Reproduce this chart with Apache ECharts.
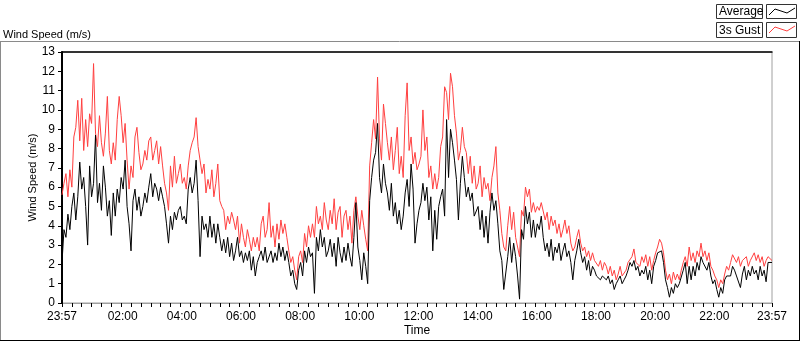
<!DOCTYPE html>
<html>
<head>
<meta charset="utf-8">
<script src="https://cdn.jsdelivr.net/npm/echarts@6/dist/echarts.min.js"></script>
<style>
  html, body { margin: 0; padding: 0; background: #fff; }
  #chart { width: 800px; height: 342px; }
</style>
</head>
<body>
<div id="chart"></div>
<script>
// minutes since 23:57, one reading every 4 min
var STEP = 4;

// 3s gust (m/s), one row per hour
var gust = [
  5.6,6.2,6.7,5.5,6.9,6.0,8.6,9.1,10.5,8.4,10.6,7.9,9.5,8.1,9.8,
  9.3,12.4,8.8,8.1,9.7,8.3,7.6,8.8,10.7,7.9,7.2,8.3,7.4,9.5,10.7,
  9.7,8.3,9.3,7.4,5.9,7.1,6.5,8.6,9.1,7.8,6.9,7.2,7.9,7.4,8.4,
  8.6,7.4,7.9,8.4,7.2,8.1,7.1,6.2,5.7,4.8,7.1,6.0,7.6,6.2,6.7,
  7.2,6.2,6.5,5.9,7.1,7.9,8.3,8.6,9.6,8.1,7.4,6.7,7.2,5.7,6.4,
  5.9,6.9,5.5,6.2,7.2,5.3,5.0,4.8,3.8,4.5,4.1,4.7,4.3,3.8,4.5,
  3.1,4.1,3.4,2.9,3.8,3.3,2.7,3.4,2.9,3.4,2.7,4.1,4.5,3.4,3.8,
  5.2,3.4,4.0,2.9,4.1,3.3,4.3,3.6,4.1,3.4,2.7,2.1,2.4,1.7,1.2,
  2.4,2.7,2.1,3.6,2.9,4.0,3.4,4.1,3.4,5.0,4.1,4.5,3.8,5.2,4.3,
  3.8,4.8,4.1,5.4,3.8,4.7,5.0,3.4,4.5,4.8,3.8,4.5,3.1,4.8,5.5,
  4.5,3.8,4.8,4.0,3.3,2.7,7.1,8.3,9.5,8.5,11.7,8.5,7.4,10.3,9.3,
  8.3,7.4,8.6,6.9,7.9,9.1,6.7,7.6,6.5,9.7,11.4,7.9,8.6,7.2,7.8,
  6.9,7.2,7.6,10.0,7.9,8.6,6.5,7.1,5.9,6.7,5.9,6.5,8.1,8.6,11.2,
  10.9,9.5,11.9,11.2,9.7,8.8,7.4,7.9,9.1,8.1,7.8,6.7,7.6,6.2,7.1,
  5.9,6.2,7.1,5.5,6.5,5.9,6.2,5.3,6.5,7.1,8.1,5.7,4.8,3.6,2.9,
  2.7,4.0,5.0,3.8,4.7,3.4,2.9,2.4,4.8,4.5,6.0,5.5,5.9,4.7,5.2,
  4.7,5.0,4.8,5.2,5.3,4.3,4.7,3.8,4.5,4.0,4.3,3.6,4.1,3.4,3.8,
  4.3,3.6,4.0,3.1,2.7,2.9,3.4,3.8,3.1,2.7,2.9,2.4,2.7,2.2,2.6,
  2.2,2.1,1.9,2.2,1.7,2.1,1.9,1.5,1.9,1.4,1.7,1.2,1.5,1.9,1.4,
  1.5,1.7,2.1,2.2,2.4,2.8,2.1,2.2,1.9,2.4,2.1,2.5,1.9,2.4,1.7,
  2.2,2.6,2.9,3.3,3.1,2.6,1.7,1.2,1.5,1.0,1.6,1.2,1.5,1.2,1.7,
  2.1,2.4,1.9,2.9,2.2,2.6,2.1,2.7,2.4,3.1,2.4,2.7,2.2,2.6,1.9,
  1.7,1.4,1.2,0.8,1.2,1.0,1.5,1.9,1.7,2.1,2.5,2.6,2.1,2.4,1.9,
  2.2,2.1,2.4,1.9,2.2,2.1,2.6,2.2,2.5,2.1,2.4,1.9,2.2,2.4,2.5,
  2.2
];

// average (m/s)
var average = [
  2.1,3.8,3.4,4.6,3.8,5.0,5.7,4.3,5.5,7.3,5.9,6.5,5.0,3.0,7.1,
  5.5,6.2,8.7,5.2,6.2,4.8,7.1,6.0,4.5,5.3,3.5,5.7,4.5,5.9,5.2,
  6.5,5.9,7.4,5.0,4.1,2.7,5.3,5.9,4.8,5.5,4.5,5.0,5.7,5.2,6.0,
  6.7,5.5,6.2,5.9,5.3,6.0,5.5,5.0,4.1,3.1,4.5,3.8,4.7,4.3,4.8,
  5.0,4.3,4.5,4.1,5.9,6.5,5.7,6.2,7.4,5.3,2.4,4.5,3.8,4.1,3.4,
  4.5,3.4,4.1,3.1,4.1,3.4,2.7,3.3,2.6,3.4,2.4,3.1,2.2,2.7,3.4,
  2.4,2.7,2.1,2.6,2.2,2.7,1.7,2.4,1.4,2.1,2.4,2.7,2.2,2.9,2.1,
  2.2,2.7,2.1,2.6,2.2,3.1,2.4,2.9,2.2,2.7,2.1,1.4,1.7,1.0,0.7,
  1.7,2.1,1.4,2.7,2.1,2.9,2.4,2.6,0.5,3.4,2.7,3.8,2.9,3.4,2.4,
  2.7,3.3,2.4,3.1,1.9,3.4,2.6,2.1,2.9,2.2,3.1,2.4,1.9,3.4,5.2,
  2.9,2.2,1.2,2.6,1.9,1.0,5.3,6.5,7.4,7.8,9.3,6.5,5.7,7.2,6.2,
  5.7,4.8,6.2,4.5,5.2,4.1,4.8,3.8,4.5,5.7,6.4,5.0,7.2,5.9,3.1,
  4.1,4.8,5.2,6.2,5.3,6.0,4.3,5.5,2.7,4.8,3.3,5.0,5.5,5.9,4.5,
  9.5,6.5,9.0,8.3,7.4,6.4,4.3,6.2,7.6,6.5,5.5,6.0,5.3,5.7,4.5,
  4.5,5.0,3.8,4.8,3.4,4.5,3.1,4.7,5.7,4.8,5.3,4.1,2.7,2.2,0.7,
  0.7,2.4,3.4,2.1,3.1,2.4,1.4,0.2,3.8,3.3,5.0,4.1,4.7,3.4,4.3,
  3.4,4.1,3.8,4.5,3.4,2.7,3.1,2.4,3.3,2.2,2.9,2.6,3.1,2.2,2.7,
  3.1,2.4,2.7,2.1,1.2,2.2,2.7,3.3,2.6,2.1,2.4,1.7,2.2,1.4,1.9,
  1.7,1.4,1.5,1.2,1.4,1.5,1.2,1.4,1.0,1.2,0.7,1.0,1.2,1.4,1.0,
  1.2,1.4,1.7,2.1,1.9,2.2,1.7,1.9,1.4,1.7,1.5,1.9,1.2,1.7,1.0,
  1.9,2.2,2.6,2.7,2.7,2.1,1.2,0.8,0.3,0.8,0.5,1.0,0.8,1.0,0.9,
  1.7,2.1,1.0,1.9,1.2,1.9,1.4,2.1,1.7,2.4,2.1,2.2,1.7,2.1,1.4,
  1.0,1.2,0.7,0.3,0.8,0.5,1.2,1.4,1.5,1.4,1.9,1.7,1.4,1.5,0.8,
  1.5,1.9,1.2,1.7,1.4,1.9,1.5,1.7,1.2,1.9,1.4,1.7,1.1,2.1,2.1,
  2.1
];

// x tick labels (minutes since 23:57)
var labelPos = [0, 123, 243, 363, 483, 603, 723, 843, 963, 1083, 1203, 1323, 1440];
var timeLabels = ['23:57','02:00','04:00','06:00','08:00','10:00','12:00','14:00','16:00','18:00','20:00','22:00','23:57'];

function pairs(arr) {
  return arr.map(function (v, i) { return [i * STEP, v]; });
}

var FONT = 'Liberation Sans';
var chart = echarts.init(document.getElementById('chart'));

var option = {
  animation: false,
  backgroundColor: '#fff',
  textStyle: { fontFamily: FONT },
  title: {
    text: 'Wind Speed (m/s)',
    left: -2, top: 24,
    textStyle: { fontSize: 11, fontWeight: 'normal', color: '#000', fontFamily: FONT }
  },
  grid: {
    left: 62, top: 52, right: 28, bottom: 39,
    show: true, borderColor: '#a0a0a0', borderWidth: 1
  },
  xAxis: [
    {
      // ticks every 20 min on the axis that carries the data
      type: 'value', min: 0, max: 1440, interval: 20, position: 'bottom',
      name: 'Time', nameLocation: 'middle', nameGap: 22,
      nameTextStyle: { fontSize: 12, color: '#000', fontFamily: FONT },
      axisLine: { show: true, onZero: false, lineStyle: { color: '#a0a0a0', width: 1 } },
      splitLine: { show: false },
      axisTick: { show: true, length: 4, lineStyle: { color: '#000', width: 1 } },
      axisLabel: { show: true, formatter: function () { return ''; } }
    },
    {
      type: 'value', min: 0, max: 1440, position: 'bottom',
      axisLine: { show: false },
      splitLine: { show: false },
      axisTick: { show: false },
      axisLabel: {
        customValues: labelPos, margin: 8, fontSize: 12, color: '#000', fontFamily: FONT,
        formatter: function (v) {
          var i = labelPos.indexOf(Math.round(v));
          return i >= 0 ? timeLabels[i] : '';
        }
      }
    },
    {
      type: 'value', min: 0, max: 1440, position: 'top',
      axisLine: { show: true, onZero: false, lineStyle: { color: '#000', width: 1.5 } },
      splitLine: { show: false },
      axisTick: { show: false },
      axisLabel: { show: false }
    }
  ],
  yAxis: {
    type: 'value', min: 0, max: 13, interval: 1,
    name: 'Wind Speed (m/s)', nameLocation: 'middle', nameGap: 24,
    nameMoveOverlap: false,
    nameTextStyle: { fontSize: 11, color: '#000', fontFamily: FONT },
    axisLine: { show: true, lineStyle: { color: '#000', width: 2 } },
    axisTick: { show: true, length: 4, lineStyle: { color: '#000' } },
    axisLabel: { margin: 7, fontSize: 12, color: '#000', fontFamily: FONT },
    splitLine: { show: false }
  },
  series: [
    {
      name: '3s Gust', type: 'line', xAxisIndex: 0,
      data: pairs(gust), showSymbol: false,
      lineStyle: { color: '#ff4040', width: 1 }
    },
    {
      name: 'Average', type: 'line', xAxisIndex: 1,
      data: pairs(average), showSymbol: false,
      lineStyle: { color: '#000', width: 1 }
    }
  ],
  graphic: [
    // outer panel frame
    { type: 'line', shape: { x1: 0, y1: 41.5, x2: 799, y2: 41.5 }, style: { stroke: '#8a8a8a', lineWidth: 1 } },
    { type: 'line', shape: { x1: 0.5, y1: 41.5, x2: 0.5, y2: 341 }, style: { stroke: '#8a8a8a', lineWidth: 1 } },
    { type: 'line', shape: { x1: 0, y1: 340.5, x2: 800, y2: 340.5 }, style: { stroke: '#000', lineWidth: 1 } },
    { type: 'line', shape: { x1: 799.5, y1: 41, x2: 799.5, y2: 341 }, style: { stroke: '#000', lineWidth: 1 } },
    // legend
    { type: 'rect', shape: { x: 716.5, y: 4.5, width: 46, height: 14 }, style: { fill: '#fff', stroke: '#333', lineWidth: 1 } },
    { type: 'text', x: 719, y: 12, style: { text: 'Average', font: '12px "Liberation Sans"', fill: '#000', verticalAlign: 'middle' } },
    { type: 'rect', shape: { x: 766.5, y: 4.5, width: 30, height: 14 }, style: { fill: '#fff', stroke: '#333', lineWidth: 1 } },
    { type: 'polyline', shape: { points: [[769, 15], [775, 9], [787, 13], [795, 8]] }, style: { stroke: '#000', lineWidth: 1, fill: null } },
    { type: 'rect', shape: { x: 716.5, y: 22.5, width: 46, height: 15 }, style: { fill: '#fff', stroke: '#333', lineWidth: 1 } },
    { type: 'text', x: 719, y: 30.5, style: { text: '3s Gust', font: '12px "Liberation Sans"', fill: '#000', verticalAlign: 'middle' } },
    { type: 'rect', shape: { x: 766.5, y: 22.5, width: 30, height: 15 }, style: { fill: '#fff', stroke: '#333', lineWidth: 1 } },
    { type: 'polyline', shape: { points: [[769, 33], [775, 27], [787, 31], [795, 26]] }, style: { stroke: '#ff4040', lineWidth: 1, fill: null } }
  ]
};

chart.setOption(option);
</script>
</body>
</html>
